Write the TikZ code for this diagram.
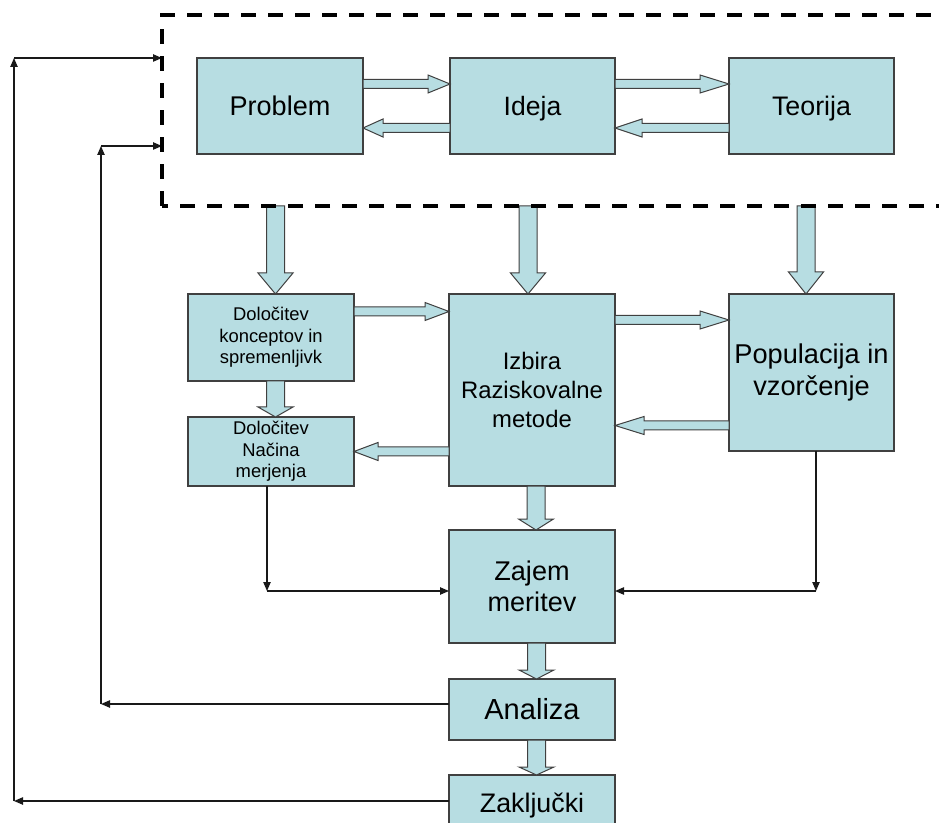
\documentclass[tikz,border=0pt]{standalone}
\usepackage{fontspec}
\setmainfont{Liberation Sans}
\usetikzlibrary{calc,arrows.meta}

\definecolor{boxfill}{RGB}{183,221,226}
\definecolor{boxline}{RGB}{64,64,64}
\definecolor{connline}{RGB}{25,25,25}

% horizontal block arrow: tail anchor, tip anchor, y, offset of head base from tip
\newcommand\hblock[4]{%
  \coordinate (bt) at (#1 |- 0,#3);
  \coordinate (bh) at (#2 |- 0,#3);
  \draw[blockarrow] ($(bt)+(0,-4.5)$) -- ($(bh)+(#4,-4.5)$) -- ($(bh)+(#4,-9)$)
    -- (bh) -- ($(bh)+(#4,9)$) -- ($(bh)+(#4,4.5)$) -- ($(bt)+(0,4.5)$) -- cycle;}
% vertical block arrow: tail anchor, tip anchor, x, offset of head base from tip
\newcommand\vblock[4]{%
  \coordinate (bt) at (#3,0 |- #1);
  \coordinate (bh) at (#3,0 |- #2);
  \draw[blockarrow] ($(bt)+(-9,0)$) -- ($(bh)+(-9,#4)$) -- ($(bh)+(-17.5,#4)$)
    -- (bh) -- ($(bh)+(17.5,#4)$) -- ($(bh)+(9,#4)$) -- ($(bt)+(9,0)$) -- cycle;}

\tikzset{
  wh/.style 2 args={minimum width=#1*0.75pt, minimum height=#2*0.75pt},
  box/.style={draw=boxline, fill=boxfill, line width=1.1pt, inner sep=0pt,
    outer sep=0pt, align=center},
  fs/.style 2 args={font=\fontsize{#1}{#2}\selectfont},
  small/.style={font=\fontsize{13.8pt}{16pt}\selectfont},
  capline/.style={text height=#1, text depth=0pt},
  blockarrow/.style={draw=boxline, fill=boxfill, line width=0.75pt, line join=miter},
  conn/.style={draw=connline, line width=1pt,
    -{Triangle[length=6.75pt, width=5.5pt]}},
  frame/.style={draw=black, line width=3pt, dash pattern=on 11.25pt off 9pt}
}

\begin{document}
\begin{tikzpicture}[x=0.75pt, y=-0.75pt]
\useasboundingbox (0,0) rectangle (939,823);
\fill[white] (0,0) rectangle (939,823);
\clip (0,0) rectangle (939,823);

% group frame (border drawn last)
\node[wh={838}{191}, inner sep=0pt, outer sep=0pt] (grp) at (581,110.5) {};

% top row
\node[box, fs={20.3pt}{24pt}, capline=14.5pt, wh={166}{96}] (prob) at (280,106) {Problem};
\node[box, fs={19.9pt}{24pt}, capline=14.3pt, wh={165}{96}] (idea) at (532.5,106) {Ideja};
\node[box, fs={20.1pt}{24pt}, capline=14.4pt, wh={165}{96}] (theo) at (811.5,106) {Teorija};

% middle rows
\node[box, small, wh={166}{87}] (konc) at (271,337.5)
  {Določitev\\konceptov in\\spremenljivk};
\node[box, small, wh={166}{69}] (nacin) at (271,451.5)
  {Določitev\\Načina\\merjenja};
\node[box, fs={17.9pt}{21.6pt}, wh={166}{192}] (izb) at (532,390)
  {Izbira\\Raziskovalne\\metode};
\node[box, fs={20.4pt}{23.8pt}, wh={165}{157}] (pop) at (811.5,372.5)
  {Populacija in\\vzorčenje};

% lower column
\node[box, fs={20.3pt}{23pt}, wh={166}{113}] (zaj) at (532,586.5) {Zajem\\meritev};
\node[box, fs={21.8pt}{26pt}, capline=15.6pt, wh={166}{61}] (anal) at (532,709.5) {Analiza};
\node[box, fs={20.1pt}{24pt}, text height=14.4pt, text depth=4.65pt, wh={166}{61}]
  (zakl) at (532,805.5) {Zaključki};

% block arrows of the top row
\hblock{prob.east}{idea.west}{84}{-22}
\hblock{idea.west}{prob.east}{128}{20}
\hblock{idea.east}{theo.west}{84}{-29}
\hblock{theo.west}{idea.east}{128}{27}

% block arrows out of the group
\vblock{grp.south}{konc.north}{275.5}{-21}
\vblock{grp.south}{izb.north}{528}{-21}
\vblock{grp.south}{pop.north}{806}{-22}

% block arrows of the middle rows
\hblock{konc.east}{izb.west}{311.5}{-24}
\hblock{izb.east}{pop.west}{320}{-29}
\hblock{pop.west}{izb.east}{425.5}{29}
\hblock{izb.west}{nacin.east}{451.5}{24}
\vblock{konc.south}{nacin.north}{275.5}{-10}

% block arrows of the lower column
\vblock{izb.south}{zaj.north}{536}{-11}
\vblock{zaj.south}{anal.north}{536.5}{-9}
\vblock{anal.south}{zakl.north}{536.5}{-8}

% thin connectors into the measurement box
\coordinate (nd) at (267,591);
\draw[conn] (nacin.south -| nd) -- (nd);
\draw[conn] (nd) -- (nd -| zaj.west);
\coordinate (pd) at (816,591);
\draw[conn] (pop.south -| pd) -- (pd);
\draw[conn] (pd) -- (pd -| zaj.east);

% feedback from the analysis
\coordinate (ac) at (101,704);
\coordinate (at) at (101,146);
\draw[conn] (anal.west |- ac) -- (ac);
\draw[conn] (ac) -- (at);
\draw[conn] (at) -- (at -| grp.west);

% feedback from the conclusions
\coordinate (zc) at (14,801);
\coordinate (zt) at (14,58);
\draw[conn] (zakl.west |- zc) -- (zc);
\draw[conn] (zc) -- (zt);
\draw[conn] (zt) -- (zt -| grp.west);

% dashed group border
\draw[frame] (grp.south west) -- (grp.north west) -- (grp.north east) -- (grp.south east) -- cycle;
\end{tikzpicture}
\end{document}
